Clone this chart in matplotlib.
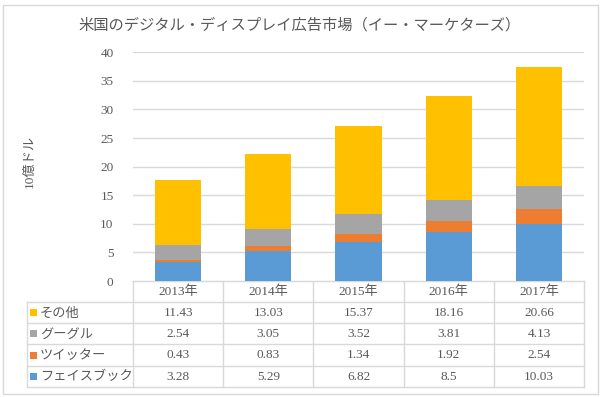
import matplotlib
matplotlib.use("Agg")
import matplotlib.pyplot as plt
from matplotlib.patches import Rectangle

years = ["2013年", "2014年", "2015年", "2016年", "2017年"]
series_names = ["フェイスブック", "ツイッター", "グーグル", "その他"]
facebook = [3.28, 5.29, 6.82, 8.5, 10.03]
twitter = [0.43, 0.83, 1.34, 1.92, 2.54]
google = [2.54, 3.05, 3.52, 3.81, 4.13]
other = [11.43, 13.03, 15.37, 18.16, 20.66]
value_labels = {
    "その他": ["11.43", "13.03", "15.37", "18.16", "20.66"],
    "グーグル": ["2.54", "3.05", "3.52", "3.81", "4.13"],
    "ツイッター": ["0.43", "0.83", "1.34", "1.92", "2.54"],
    "フェイスブック": ["3.28", "5.29", "6.82", "8.5", "10.03"],
}
colors = ["#5B9BD5", "#ED7D31", "#A5A5A5", "#FFC000"]
title = "米国のデジタル・ディスプレイ広告市場（イー・マーケターズ）"
ylabel = "10億ドル"

JP = ["Noto Sans CJK JP", "DejaVu Sans"]
MIX = ["Liberation Serif", "Noto Sans CJK JP"]
TXT = "#595959"
GRID = "#D9D9D9"

W, H = 605, 397
fig = plt.figure(figsize=(W / 100, H / 100), dpi=100)

def px(x0, y0, x1, y1):
    # pixel box (top-left origin) -> figure fraction
    return [x0 / W, 1 - y1 / H, (x1 - x0) / W, (y1 - y0) / H]

# outer border
bg = fig.add_axes([0, 0, 1, 1])
bg.set_xlim(0, W); bg.set_ylim(H, 0); bg.axis("off")
bg.add_patch(Rectangle((3, 5), 595, 389, fill=False, ec=GRID, lw=1))

# main axes
x_left, x_right, y_top, y_bot = 133, 584, 52.3, 281
ax = fig.add_axes(px(x_left, y_top, x_right, y_bot))
series = [facebook, twitter, google, other]
idx = list(range(len(years)))
bottom = [0] * len(years)
for vals, c in zip(series, colors):
    ax.bar(idx, vals, width=0.51, bottom=bottom, color=c, zorder=3)
    bottom = [b + v for b, v in zip(bottom, vals)]
ax.set_xlim(-0.5, len(years) - 0.5)
ax.set_ylim(0, 40)
ax.set_yticks(range(0, 41, 5))
ax.set_yticklabels([str(v) for v in range(0, 41, 5)], family=MIX, fontsize=9.5, color=TXT)
ax.tick_params(axis="y", length=0, pad=14)
ax.set_xticks([])
for s in ["left", "right", "top"]:
    ax.spines[s].set_visible(False)
ax.spines["bottom"].set_color(GRID)
ax.yaxis.grid(True, color=GRID, lw=1, zorder=0)
ax.set_axisbelow(True)

fig.text(300 / W, 1 - 25 / H, title, family=JP, fontsize=11, color=TXT, ha="center", va="center")
fig.text(30 / W, 1 - 161 / H, ylabel, family=MIX, fontsize=9.5, color=TXT, ha="center", va="center", rotation=90)

# data table
t_left, t_right = 27, 584
rows_y = [281, 302, 323, 344, 366, 387]
colw = (x_right - x_left) / len(years)
tb = bg
lc = GRID
# horizontal lines
tb.plot([x_left, x_right], [rows_y[0]] * 2, color=lc, lw=1)
for yy in rows_y[1:]:
    tb.plot([t_left, x_right], [yy, yy], color=lc, lw=1)
# vertical lines
for i in range(len(years) + 1):
    xx = x_left + i * colw
    tb.plot([xx, xx], [rows_y[0], rows_y[-1]], color=lc, lw=1)
tb.plot([t_left, t_left], [rows_y[1], rows_y[-1]], color=lc, lw=1)

for i, yl in enumerate(years):
    tb.text(x_left + (i + 0.5) * colw, (rows_y[0] + rows_y[1]) / 2 + 0.5, yl, family=MIX,
            fontsize=9.5, color=TXT, ha="center", va="center")

row_order = ["その他", "グーグル", "ツイッター", "フェイスブック"]
row_colors = {n: c for n, c in zip(series_names, colors)}
for r, name in enumerate(row_order):
    yc = (rows_y[r + 1] + rows_y[r + 2]) / 2
    tb.add_patch(Rectangle((30, yc - 3.5), 7, 7, color=row_colors[name], lw=0))
    tb.text(40, yc + 0.5, name, family=JP, fontsize=9.5, color=TXT, ha="left", va="center")
    for i, v in enumerate(value_labels[name]):
        tb.text(x_left + (i + 0.5) * colw, yc + 0.5, v, family=MIX, fontsize=9.5,
                color=TXT, ha="center", va="center")

fig.savefig("out.png", dpi=100)
